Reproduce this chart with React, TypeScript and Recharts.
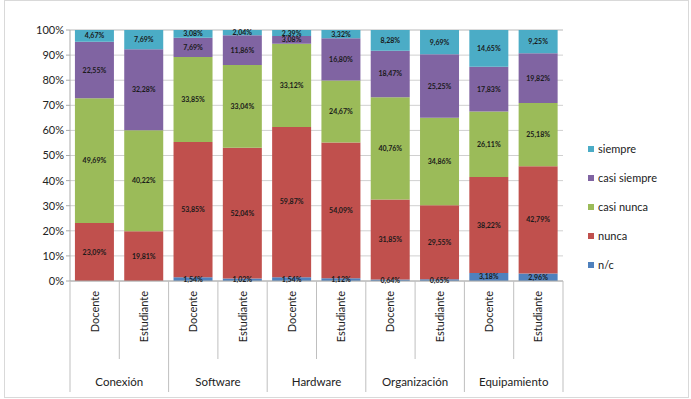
import { BarChart, Bar, XAxis, YAxis, CartesianGrid, LabelList } from "recharts";

const groups = ["Conexión", "Software", "Hardware", "Organización", "Equipamiento"];
const roles = ["Docente", "Estudiante"];

// one value per bar, in order: Conexión Docente, Conexión Estudiante, Software Docente, ...
const nc = [0.0, 0.0, 1.54, 1.02, 1.54, 1.12, 0.64, 0.65, 3.18, 2.96];
const nunca = [23.09, 19.81, 53.85, 52.04, 59.87, 54.09, 31.85, 29.55, 38.22, 42.79];
const casiNunca = [49.69, 40.22, 33.85, 33.04, 33.12, 24.67, 40.76, 34.86, 26.11, 25.18];
const casiSiempre = [22.55, 32.28, 7.69, 11.86, 3.08, 16.8, 18.47, 25.25, 17.83, 19.82];
const siempre = [4.67, 7.69, 3.08, 2.04, 2.39, 3.32, 8.28, 9.69, 14.65, 9.25];

const yTicks = [0, 10, 20, 30, 40, 50, 60, 70, 80, 90, 100];

const series = [
  { key: "nc", name: "n/c", color: "#4F81BD" },
  { key: "nunca", name: "nunca", color: "#C0504D" },
  { key: "casiNunca", name: "casi nunca", color: "#9BBB59" },
  { key: "casiSiempre", name: "casi siempre", color: "#8064A2" },
  { key: "siempre", name: "siempre", color: "#4BACC6" },
];

const data = nc.map((_, i) => ({
  id: `${groups[Math.floor(i / 2)]}-${roles[i % 2]}`,
  group: groups[Math.floor(i / 2)],
  role: roles[i % 2],
  nc: nc[i],
  nunca: nunca[i],
  casiNunca: casiNunca[i],
  casiSiempre: casiSiempre[i],
  siempre: siempre[i],
}));

const FONT = "Lato, 'Liberation Sans', sans-serif";
const fmt = (v: any) => `${Number(v).toFixed(2).replace(".", ",")}%`;

function CategoryTick(props: any) {
  const { x, y, index, payload } = props;
  const half = payload?.offset || 24.6;
  const item = data[index];
  const isSecond = index % 2 === 1;
  return (
    <g>
      {index === 0 && <line x1={x - half} y1={y - 8} x2={x - half} y2={y + 103} stroke="#bfbfbf" />}
      <line x1={x + half} y1={y - 8} x2={x + half} y2={isSecond ? y + 103 : y + 70} stroke="#bfbfbf" />
      <text
        x={0}
        y={0}
        transform={`translate(${x + 4},${y + 2}) rotate(-90)`}
        textAnchor="end"
        fontSize={11}
        fontFamily={FONT}
        fill="#222"
      >
        {item?.role}
      </text>
      {isSecond && (
        <text x={x - half} y={y + 97} textAnchor="middle" fontSize={11.5} fontFamily={FONT} fill="#222">
          {item?.group}
        </text>
      )}
    </g>
  );
}

function LegendBox() {
  const items = [...series].reverse();
  return (
    <div style={{ position: "absolute", left: 588, top: 134, fontFamily: FONT, fontSize: 11, color: "#222" }}>
      {items.map((s) => (
        <div key={s.key} style={{ display: "flex", alignItems: "center", height: 29 }}>
          <span style={{ width: 6, height: 6, background: s.color, marginRight: 4, display: "inline-block" }} />
          {s.name}
        </div>
      ))}
    </div>
  );
}

export default function App() {
  return (
    <div style={{ position: "absolute", left: 0, top: 0, width: 691, height: 399, background: "#fff" }}>
      <div
        style={{ position: "absolute", left: 4, top: 0, width: 683, height: 396, border: "1px solid #d9d9d9" }}
      />
      <BarChart
        width={691}
        height={399}
        data={data}
        margin={{ top: 30, right: 128, left: 0, bottom: 0 }}
        barCategoryGap="10%"
      >
        <CartesianGrid vertical={false} stroke="#d0d0d0" />
        <YAxis
          domain={[0, 100]}
          ticks={yTicks}
          tickFormatter={(v) => `${v}%`}
          width={70}
          axisLine={{ stroke: "#aaa" }}
          tickLine={{ stroke: "#aaa" }}
          tickSize={4}
          tick={{ fontSize: 11, fontFamily: FONT, fill: "#222" }}
          interval={0}
        />
        <XAxis
          dataKey="id"
          height={118}
          interval={0}
          axisLine={{ stroke: "#aaa" }}
          tickLine={false}
          tick={<CategoryTick />}
        />
        {series.map((s) => (
          <Bar key={s.key} dataKey={s.key} name={s.name} stackId="a" fill={s.color} isAnimationActive={false}>
            <LabelList
              dataKey={s.key}
              position="center"
              formatter={fmt}
              fontSize={7}
              fontWeight="bold"
              fontFamily={FONT}
              fill="#1a1a1a"
            />
          </Bar>
        ))}
      </BarChart>
      <LegendBox />
    </div>
  );
}
